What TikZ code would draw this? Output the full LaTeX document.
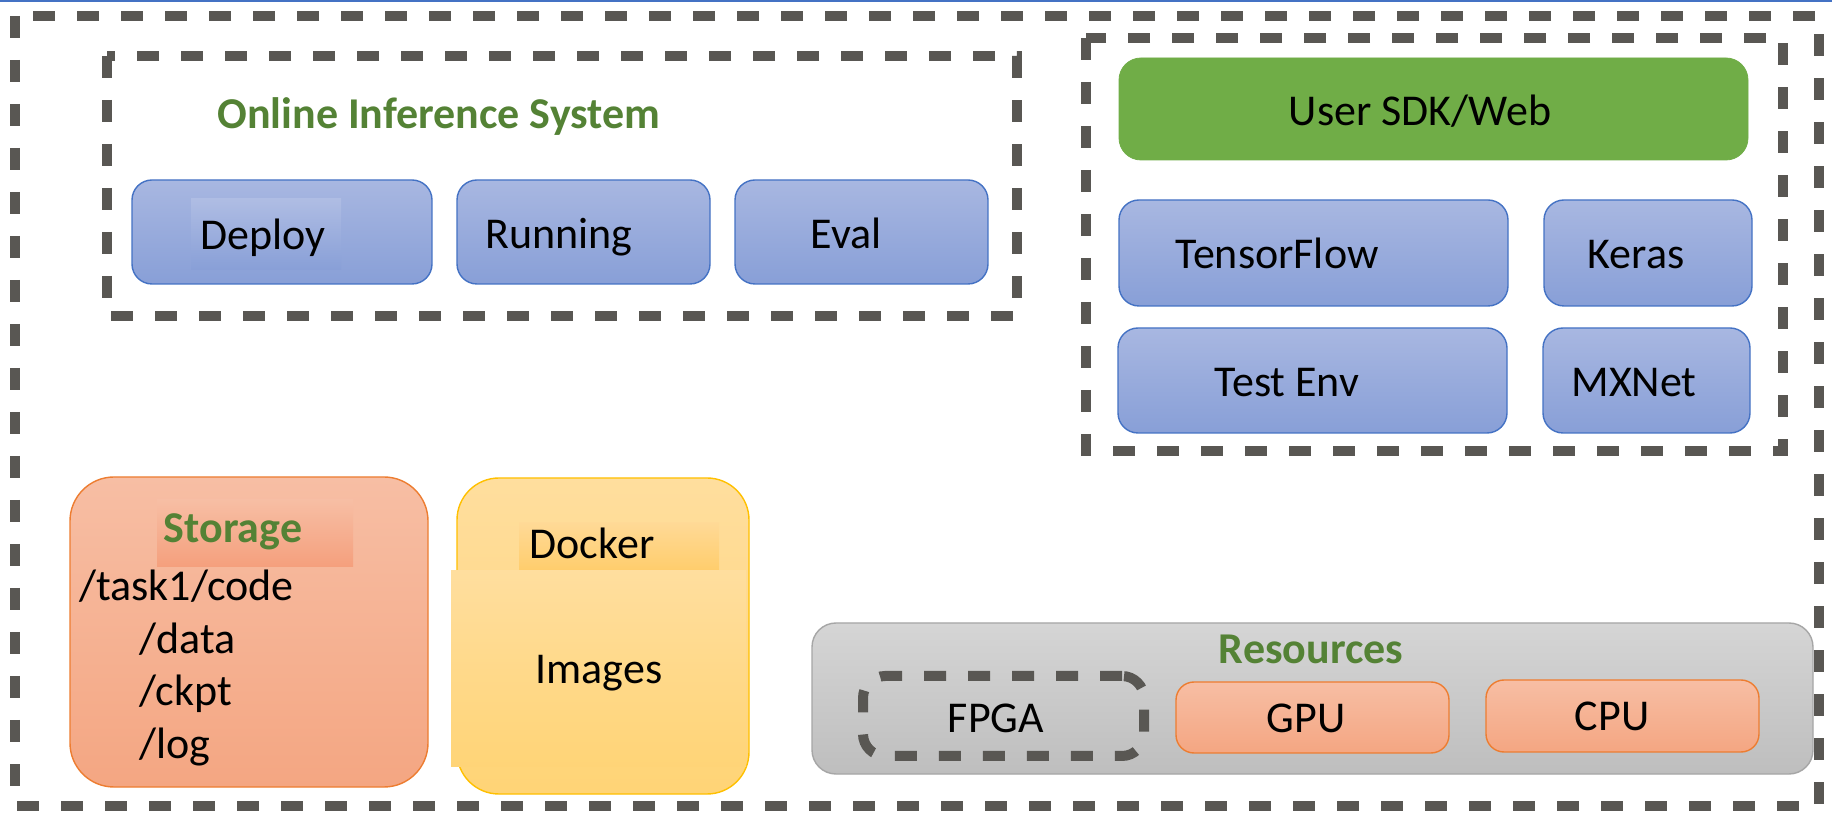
\documentclass[tikz,border=0pt]{standalone}
\usepackage{fontspec}
\setmainfont{Carlito}
\definecolor{dashgray}{RGB}{89,87,83}
\definecolor{titlegreen}{RGB}{84,130,53}
\definecolor{sdkgreen}{RGB}{112,173,71}
\definecolor{blueedge}{RGB}{68,114,196}
\definecolor{bluetop}{RGB}{168,183,225}
\definecolor{bluebot}{RGB}{136,159,215}
\definecolor{orangeedge}{RGB}{237,125,49}
\definecolor{orangetop}{RGB}{247,190,164}
\definecolor{orangebot}{RGB}{244,166,130}
\definecolor{yellowedge}{RGB}{255,192,0}
\definecolor{yellowtop}{RGB}{255,222,158}
\definecolor{yellowbot}{RGB}{255,212,118}
\definecolor{grayedge}{RGB}{166,166,166}
\definecolor{graytop}{RGB}{213,213,213}
\definecolor{graybot}{RGB}{190,190,190}
\definecolor{frameblue}{RGB}{68,114,196}

\tikzset{
  dashframe/.style={draw=dashgray, line width=5pt, dash pattern=on 11pt off 11pt},
  box/.style={draw, inner sep=0pt, outer sep=0pt, anchor=north west},
  bluebox/.style={box, draw=blueedge, line width=0.7pt, rounded corners=10pt,
    top color=bluetop, bottom color=bluebot},
  orangebox/.style={box, draw=orangeedge, line width=0.7pt,
    top color=orangetop, bottom color=orangebot},
  yellowbox/.style={box, draw=yellowedge, line width=0.7pt,
    top color=yellowtop, bottom color=yellowbot},
  label/.style={inner sep=0pt, anchor=base, font=\fontsize{22}{26}\selectfont},
  title/.style={label, font=\fontsize{22}{26}\selectfont\bfseries, text=titlegreen},
}

\begin{document}
\begin{tikzpicture}[x=0.5pt, y=-0.5pt]
\useasboundingbox (0,0) rectangle (1832,817);
\fill[white] (0,0) rectangle (1832,817);
\draw[frameblue, line width=1pt] (0,1) -- (1832,1);

% outer frame
\draw[dashframe] (15,16) rectangle (1819,806);

% online inference system
\draw[dashframe] (107,56) rectangle (1017,316);
\node[title] (oistitle) at (439,129) {Online Inference System};
\node[bluebox, minimum width=150pt, minimum height=52pt] (deploy) at (132,180) {};
\fill[top color=bluetop!92!white, bottom color=bluebot] (191,199) rectangle (341,270);
\node[bluebox, minimum width=126.5pt, minimum height=52pt] (running) at (457,180) {};
\node[bluebox, minimum width=126.5pt, minimum height=52pt] (eval) at (735,180) {};
\node[label] (deployL) at (263,250) {Deploy};
\node[label] (runningL) at (559,249) {Running};
\node[label] (evalL) at (846,249) {Eval};

% user side frameworks
\draw[dashframe] (1086,38) rectangle (1783,451);
\node[box, draw=sdkgreen, fill=sdkgreen, rounded corners=11pt,
      minimum width=314.5pt, minimum height=51pt] (sdk) at (1119,58) {};
\node[label] (sdkL) at (1420,126) {User SDK/Web};
\node[bluebox, minimum width=194.5pt, minimum height=53pt] (tf) at (1119,200) {};
\node[bluebox, minimum width=104pt, minimum height=53pt] (keras) at (1544,200) {};
\node[bluebox, minimum width=194.5pt, minimum height=52.5pt] (testenv) at (1118,328) {};
\node[bluebox, minimum width=103.5pt, minimum height=52.5pt] (mxnet) at (1543,328) {};
\node[label] (tfL) at (1277,269) {TensorFlow};
\node[label] (kerasL) at (1636,269) {Keras};
\node[label] (testenvL) at (1287,397) {Test Env};
\node[label] (mxnetL) at (1634,397) {MXNet};

% storage
\node[orangebox, rounded corners=22pt, minimum width=179pt, minimum height=155pt] (storage) at (70,477) {};
\fill[top color=orangetop, bottom color=orangebot!96!red] (157,500) rectangle (353,567);
\node[title] (storageL) at (233,543) {Storage};
\node[label, anchor=base west] (codeL) at (79,601) {/task1/code};
\node[label, anchor=base west] (dataL) at (139,654) {/data};
\node[label, anchor=base west] (ckptL) at (139,706) {/ckpt};
\node[label, anchor=base west] (logL) at (139,759) {/log};

% docker images
\node[yellowbox, rounded corners=21pt, minimum width=146pt, minimum height=158pt] (docker) at (457,478) {};
\fill[top color=yellowtop!95!orange, bottom color=yellowbot!92!orange] (519,523) rectangle (719,570);
\fill[top color=yellowtop, bottom color=yellowbot!97!yellowtop] (451,571) rectangle (746,766);
\node[label] (dockerL) at (592,559) {Docker};
\node[label] (imagesL) at (599,683) {Images};

% resources
\node[box, draw=grayedge, line width=0.7pt, rounded corners=12pt,
      top color=graytop, bottom color=graybot,
      minimum width=500.5pt, minimum height=75.5pt] (res) at (812,623) {};
\node[title] (resL) at (1311,664) {Resources};
\node[box, dashframe, rounded corners=11pt,
      minimum width=140.5pt, minimum height=40pt] (fpga) at (863,676) {};
\node[orangebox, rounded corners=9pt, minimum width=136.5pt, minimum height=35.5pt] (gpu) at (1176,682) {};
\node[orangebox, rounded corners=9pt, minimum width=136.5pt, minimum height=36pt] (cpu) at (1486,680) {};
\node[label] (fpgaL) at (996,733) {FPGA};
\node[label] (gpuL) at (1306,733) {GPU};
\node[label] (cpuL) at (1612,731) {CPU};
\end{tikzpicture}
\end{document}
